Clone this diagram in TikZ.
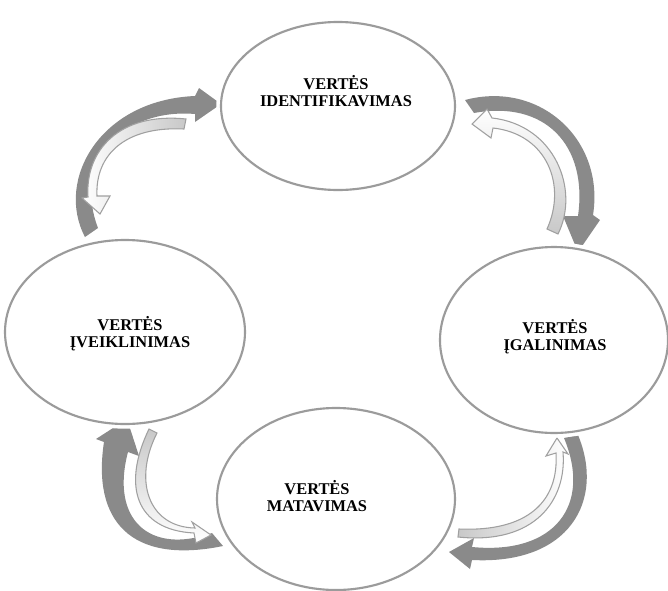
\documentclass[tikz,border=0pt]{standalone}
\usepackage{fontspec}
\setmainfont{Liberation Serif}
\usetikzlibrary{shapes.geometric}
\definecolor{darkarr}{RGB}{138,138,138}
\definecolor{lightfill}{RGB}{200,200,200}
\definecolor{inline}{RGB}{160,160,160}
\definecolor{ellline}{RGB}{155,155,155}
\begin{document}
\begin{tikzpicture}[x=0.75pt,y=-0.75pt,
  darrow/.style={fill=darkarr, draw=none},
  iarrow/.style={draw=inline, line width=0.8pt, line join=miter},
  oval/.style={ellipse, draw=ellline, line width=1.6pt, fill=white, inner sep=0pt,
               preaction={draw=white, line width=7pt}},
  lbl/.style={font=\bfseries\fontsize{12.3}{12.5}\selectfont, align=center, inner sep=0pt}]
\useasboundingbox[fill=white] (0,0) rectangle (668,590);

% dark outer arrows
\path[darrow] (85,237) .. controls (55,180) and (100,100) .. (195,96)
  -- (199,88) -- (221,104) -- (195,122) -- (195,114)
  .. controls (125,108) and (72,160) .. (98,228) -- cycle;
\path[darrow] (465,100) .. controls (540,80) and (605,140) .. (593,215)
  -- (600,220) -- (578,252) -- (563,216) -- (578,216)
  .. controls (588,145) and (545,100) .. (474,113) -- cycle;
\path[darrow] (223,546) .. controls (130,565) and (92,520) .. (104,442)
  -- (96,439) -- (127,419) -- (139,456) -- (128,452)
  .. controls (110,520) and (150,555) .. (212,533) -- cycle;
\path[darrow] (578,435) .. controls (605,500) and (570,565) .. (472,560)
  -- (470,569) -- (449,552) -- (474,538) -- (472,547)
  .. controls (555,555) and (592,505) .. (564,438) -- cycle;

% inner light arrows
\draw[iarrow, left color=white, middle color=white, right color=lightfill]
  (186,119) .. controls (120,112) and (85,150) .. (88,197)
  -- (82,198) -- (100,214) -- (110,196) -- (97,196)
  .. controls (95,155) and (125,126) .. (184,129) -- cycle;
\draw[iarrow, top color=white, middle color=white, bottom color=lightfill]
  (558,234) .. controls (580,190) and (555,125) .. (492,118)
  -- (487,109) -- (472,124) -- (491,138) -- (493,128)
  .. controls (547,134) and (567,185) .. (547,229) -- cycle;
\draw[iarrow, top color=lightfill, middle color=white, bottom color=white]
  (149,429) .. controls (122,485) and (135,530) .. (194,533)
  -- (196,543) -- (211,535) -- (192,522) -- (195,528)
  .. controls (148,527) and (133,480) .. (157,433) -- cycle;
\draw[iarrow, left color=lightfill, middle color=white, right color=white]
  (458,537) .. controls (535,545) and (567,500) .. (563,452)
  -- (568,454) -- (557,438) -- (546,456) -- (556,453)
  .. controls (559,502) and (527,532) .. (459,529) -- cycle;

% ellipses
\node[oval, minimum width=175.5pt, minimum height=126pt] (e1) at (338,106) {};
\node[oval, minimum width=171pt, minimum height=139.5pt] (e2) at (554,340) {};
\node[oval, minimum width=178.5pt, minimum height=136.5pt] (e3) at (336,499) {};
\node[oval, minimum width=180pt, minimum height=138pt] (e4) at (125,332) {};

% labels
\node[lbl] (t1) at (336,91) {VERTĖS\\IDENTIFIKAVIMAS};
\node[lbl] (t2) at (555,337) {VERTĖS\\ĮGALINIMAS};
\node[lbl] (t3) at (317,496) {VERTĖS\\MATAVIMAS};
\node[lbl] (t4) at (130,334) {VERTĖS\\ĮVEIKLINIMAS};
\end{tikzpicture}
\end{document}
